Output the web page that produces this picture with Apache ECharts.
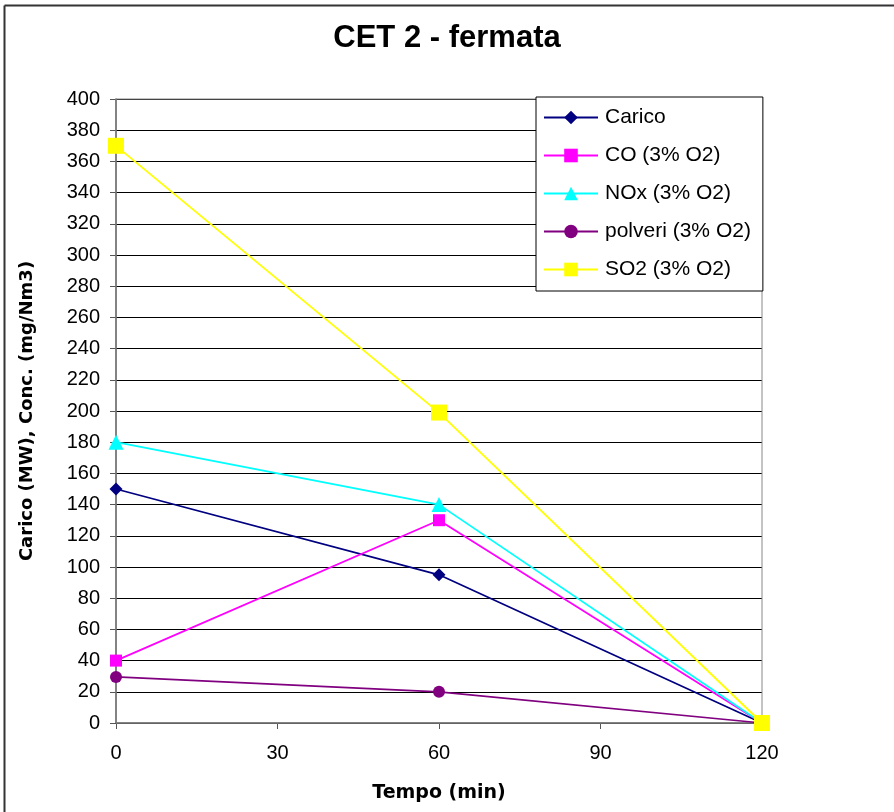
<!DOCTYPE html>
<html>
<head>
<meta charset="utf-8">
<script src="https://cdn.jsdelivr.net/npm/echarts@6/dist/echarts.min.js"></script>
<style>
  html, body { margin: 0; padding: 0; background: #fff; }
  #chart { width: 894px; height: 812px; }
</style>
</head>
<body>
<div id="chart"></div>
<script>
// Time points (min)
const tempo = [0, 60, 120];
// Series values
const carico  = [150, 95, 0];
const co      = [40, 130, 0];
const nox     = [180, 140, 0];
const polveri = [29.5, 20, 0];
const so2     = [370, 199, 0];

const names = ['Carico', 'CO (3% O2)', 'NOx (3% O2)', 'polveri (3% O2)', 'SO2 (3% O2)'];
const values = [carico, co, nox, polveri, so2];
const colors = ['#000080', '#FF00FF', '#00FFFF', '#800080', '#FFFF00'];
const symbols = ['diamond', 'rect', 'triangle', 'circle', 'rect'];
const symbolSizes = [13, 12, 15, 12, 16];

const FONT = 'Liberation Sans, Arial, sans-serif';
const NAME_FONT = 'DejaVu Sans, Liberation Sans, sans-serif';

const chart = echarts.init(document.getElementById('chart'));

const series = names.map((n, i) => ({
  name: n,
  type: 'line',
  data: tempo.map((t, j) => [t, values[i][j]]),
  symbol: symbols[i],
  symbolSize: symbolSizes[i],
  showAllSymbol: true,
  lineStyle: { color: colors[i], width: 1.75 },
  itemStyle: { color: colors[i] },
  emphasis: { disabled: true },
  z: 3 + i
}));

chart.setOption({
  animation: false,
  backgroundColor: '#fff',
  title: {
    text: 'CET 2 - fermata',
    left: 'center',
    top: 18,
    textStyle: { fontFamily: FONT, fontSize: 31, fontWeight: 'bold', color: '#000' }
  },
  graphic: [
    { type: 'line', shape: { x1: 4.5, y1: 5.5, x2: 894, y2: 5.5 }, style: { stroke: '#333', lineWidth: 2 } },
    { type: 'line', shape: { x1: 4.5, y1: 5.5, x2: 4.5, y2: 812 }, style: { stroke: '#333', lineWidth: 2 } },
    { type: 'rect', shape: { x: 116, y: 99, width: 646, height: 624 }, style: { fill: 'none', stroke: '#888', lineWidth: 1 }, z: 1 }
  ],
  legend: {
    orient: 'vertical',
    left: 536,
    top: 97,
    backgroundColor: '#fff',
    borderColor: '#000',
    borderWidth: 1,
    padding: [10, 12, 11, 7],
    itemWidth: 54,
    itemHeight: 17,
    itemGap: 17,
    textStyle: { fontFamily: FONT, fontSize: 21, color: '#000', padding: [0, 0, 0, 2] },
    data: names,
    z: 10
  },
  grid: { left: 116, right: 132, top: 99, bottom: 89, containLabel: false },
  xAxis: {
    type: 'value',
    min: 0, max: 120, interval: 30,
    name: 'Tempo (min)',
    nameLocation: 'middle',
    nameGap: 61,
    nameTextStyle: { fontFamily: NAME_FONT, fontSize: 19, fontWeight: 'bold', color: '#000' },
    axisLine: { show: true, lineStyle: { color: '#555', width: 1.5 } },
    axisTick: { show: true, inside: false, length: 6, lineStyle: { color: '#555' } },
    axisLabel: { fontFamily: FONT, fontSize: 20, color: '#000', margin: 20 },
    splitLine: { show: false }
  },
  yAxis: {
    type: 'value',
    min: 0, max: 400, interval: 20,
    name: 'Carico (MW), Conc. (mg/Nm3)',
    nameLocation: 'middle',
    nameGap: 80,
    nameRotate: 90,
    nameTextStyle: { fontFamily: NAME_FONT, fontSize: 18, fontWeight: 'bold', color: '#000' },
    axisLine: { show: true, lineStyle: { color: '#555', width: 1.5 } },
    axisTick: { show: true, inside: false, length: 6, lineStyle: { color: '#555' } },
    axisLabel: { fontFamily: FONT, fontSize: 20, color: '#000', margin: 16 },
    splitLine: { show: true, lineStyle: { color: '#000', width: 1 } }
  },
  series: series
});
</script>
</body>
</html>
